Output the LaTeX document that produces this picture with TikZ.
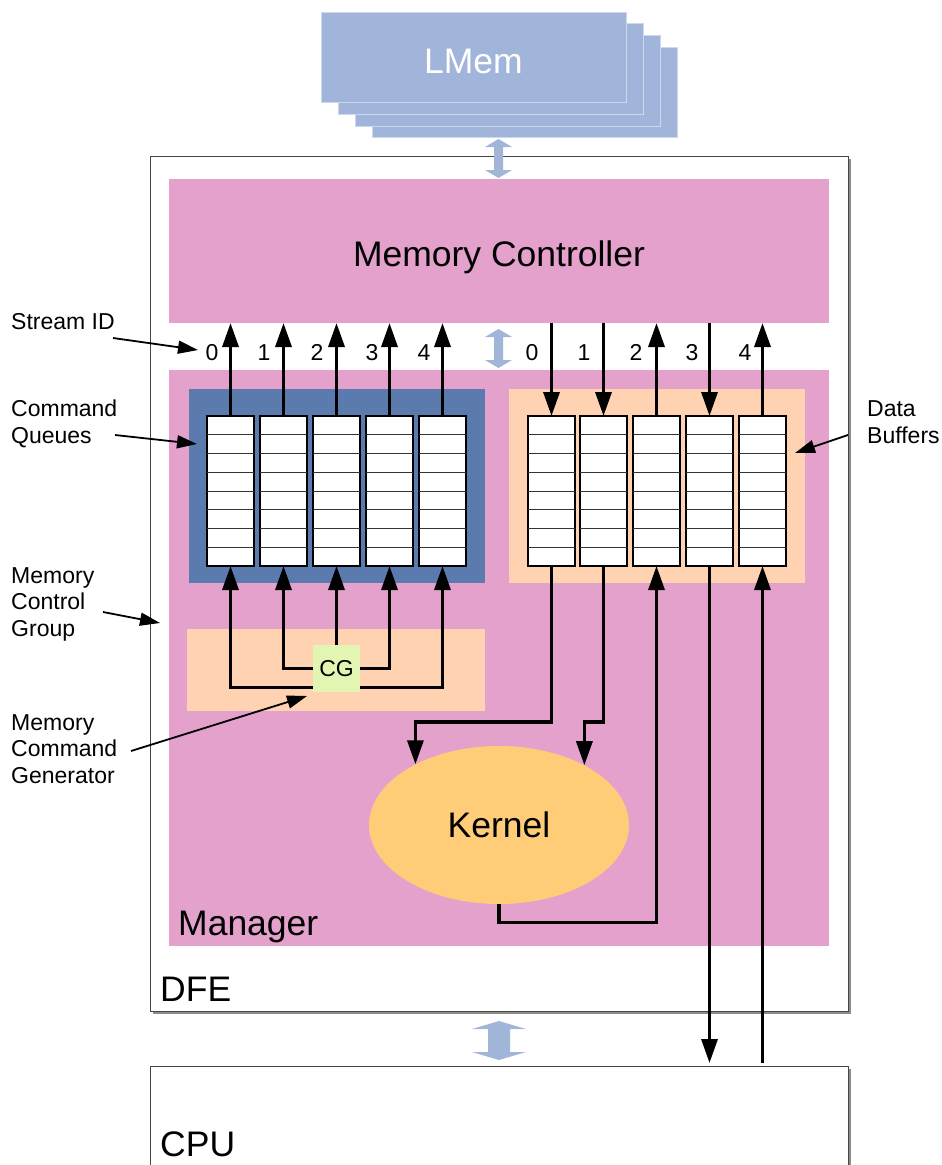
\documentclass[tikz,border=0pt]{standalone}
\usepackage{fontspec}
\setmainfont{Liberation Sans}
\usetikzlibrary{arrows.meta,shapes.geometric}
\definecolor{pinkc}{RGB}{228,161,203}
\definecolor{bluec}{RGB}{91,123,175}
\definecolor{peachc}{RGB}{255,211,178}
\definecolor{kernc}{RGB}{255,205,120}
\definecolor{cgc}{RGB}{227,245,178}
\definecolor{lmemc}{RGB}{161,180,218}
\definecolor{lmemedge}{RGB}{205,216,236}
\definecolor{blockc}{RGB}{161,181,217}
\definecolor{shadowc}{RGB}{140,140,140}
\definecolor{borderc}{RGB}{70,70,70}
\begin{document}
\begin{tikzpicture}[x=1pt,y=-1pt,
  bigtext/.style={font=\fontsize{35.5}{40}\selectfont, inner sep=0},
  smalltext/.style={font=\fontsize{23}{26.5}\selectfont, inner sep=0},
  area/.style={inner sep=0, outer sep=0, anchor=north west},
  lmemrect/.style={fill=lmemc, draw=lmemedge, line width=0.8pt},
  col/.style={draw=black, fill=white, line width=1.2pt, minimum width=47pt, minimum height=150pt, inner sep=0, outer sep=0, anchor=north west},
  rowline/.style={draw=black!80, line width=1pt},
  flow/.style={line width=3.3pt, -{Triangle[length=24pt,width=16pt]}},
  callout/.style={line width=1.8pt, -{Triangle[length=20pt,width=13pt]}},
  blockarrow/.style={fill=blockc},
  boxborder/.style={draw=borderc, line width=1.2pt, fill=white}
]
\useasboundingbox (0,0) rectangle (942,1165);
\clip (0,0) rectangle (942,1165);

% LMem stack
\draw[lmemrect] (372,47) rectangle (677,137);
\draw[lmemrect] (355,35) rectangle (660,126);
\draw[lmemrect] (338,23) rectangle (643,114);
\draw[lmemrect] (321,12) rectangle (626,102);
\node[bigtext, text=white, anchor=base] (lmem) at (473.5,73) {LMem};

% DFE box with shadow
\fill[shadowc] (153,159) rectangle (851,1014);
\node[boxborder, minimum width=698pt, minimum height=855pt, inner sep=0, anchor=north west] (dfe) at (150,156) {};
\node[bigtext, anchor=base west] at (160,1001) {DFE};

% CPU box
\fill[shadowc] (153,1069) rectangle (851,1200);
\node[boxborder, minimum width=698pt, minimum height=140pt, inner sep=0, anchor=north west] (cpu) at (150,1066) {};
\node[bigtext, anchor=base west] at (160,1156) {CPU};

% Memory controller
\node[area, fill=pinkc, minimum width=660pt, minimum height=144pt] (mc) at (169,179) {};
\node[bigtext, anchor=base] at (499,266) {Memory Controller};

% Manager
\node[area, fill=pinkc, minimum width=660pt, minimum height=576pt] (mgr) at (169,370) {};
\node[bigtext, anchor=base west] at (178,935) {Manager};

% groups
\node[area, fill=bluec, minimum width=296pt, minimum height=194pt] (cqgrp) at (189,389) {};
\node[area, fill=peachc, minimum width=296pt, minimum height=194pt] (dbgrp) at (509,389) {};
\node[area, fill=peachc, minimum width=298pt, minimum height=82pt] (cggrp) at (187,629) {};

% kernel
\node[ellipse, fill=kernc, minimum width=260pt, minimum height=158pt, bigtext] (kernel) at (499,825) {Kernel};

% queues and buffers
\foreach \n/\x in {0/207,1/260,2/313,3/366,4/419}{
  \node[col] (q\n) at (\x,416) {};
  \foreach \i in {1,...,7}{
    \draw[rowline] ([yshift=-\i*18.75pt]q\n.north west) -- ([yshift=-\i*18.75pt]q\n.north east);
  }
}
\foreach \n/\x in {0/528,1/580,2/633,3/686,4/739}{
  \node[col] (b\n) at (\x,416) {};
  \foreach \i in {1,...,7}{
    \draw[rowline] ([yshift=-\i*18.75pt]b\n.north west) -- ([yshift=-\i*18.75pt]b\n.north east);
  }
}

% CG
\node[fill=cgc, minimum width=47pt, minimum height=47pt, smalltext] (cg) at (336.5,668.5) {CG};

% stream ids
\foreach \n/\x in {0/212,1/264,2/317,3/372,4/424}{
  \node[smalltext, anchor=base] at (\x,360) {\n};
}
\foreach \n/\x in {0/532,1/584,2/636,3/692,4/745}{
  \node[smalltext, anchor=base] at (\x,360) {\n};
}

% command queue arrows to MC
\foreach \n in {0,...,4}{
  \draw[flow] (q\n.north) -- (q\n.north |- mc.south);
}
% buffers
\draw[flow] (b0.north |- mc.south) -- (b0.north);
\draw[flow] (b1.north |- mc.south) -- (b1.north);
\draw[flow] (b2.north) -- (b2.north |- mc.south);
\draw[flow] (b3.north |- mc.south) -- (b3.north);
\draw[flow] (b4.north) -- (b4.north |- mc.south);

% CG to queues
\draw[flow] (cg.north) -- (q2.south);
\draw[flow] (cg.west) -| (q1.south);
\draw[flow] (cg.east) -| (q3.south);
\draw[flow] ([yshift=5pt]cg.south west) -| (q0.south);
\draw[flow] ([yshift=5pt]cg.south east) -| (q4.south);

% buffers to kernel
\draw[flow] (b0.south) -- (b0.south |- 0,722) -| (kernel.144.5);
\draw[flow] (b1.south) -- (b1.south |- 0,722) -| (kernel.35.5);
\draw[flow] (kernel.south) -- ++(0,18) -| (b2.south);
\draw[flow] (b3.south) -- ([yshift=3pt]b3.south |- cpu.north);
\draw[flow] ([yshift=3pt]b4.south |- cpu.north) -- (b4.south);

% block arrows
\fill[blockarrow] (498.5,139) -- (512,147) -- (503,147) -- (503,170) -- (512,170) -- (498.5,178) -- (485,170) -- (494,170) -- (494,147) -- (485,147) -- cycle;
\fill[blockarrow] (498.5,329) -- (512,337) -- (503,337) -- (503,360) -- (512,360) -- (498.5,368) -- (485,360) -- (494,360) -- (494,337) -- (485,337) -- cycle;
\fill[blockarrow] (499,1021) -- (526,1029) -- (510,1029) -- (510,1052) -- (526,1052) -- (499,1060) -- (472,1052) -- (488,1052) -- (488,1029) -- (472,1029) -- cycle;

% callouts (base anchor = baseline of last line)
\node[smalltext, anchor=base west] (lsid) at (11,329) {Stream ID};
\node[smalltext, align=left, anchor=base west] (lcq) at (11,443) {Command\\Queues};
\node[smalltext, align=left, anchor=base west] (lmcg) at (11,636) {Memory\\Control\\Group};
\node[smalltext, align=left, anchor=base west] (lmcgen) at (11,783) {Memory\\Command\\Generator};
\node[smalltext, align=left, anchor=base west] (ldb) at (867,443) {Data\\Buffers};

\coordinate (sidfrom) at (113,338);
\coordinate (sidto) at (198,350);
\coordinate (cqfrom) at (115,435);
\coordinate (cqto) at (197,444);
\coordinate (mcgfrom) at (103,612);
\coordinate (mcgto) at (160,623);
\coordinate (genfrom) at (131,751);
\coordinate (gento) at (307,696);
\coordinate (dbfrom) at (848,435);
\coordinate (dbto) at (795,453);
\draw[callout] (sidfrom) -- (sidto);
\draw[callout] (cqfrom) -- (cqto);
\draw[callout] (mcgfrom) -- (mcgto);
\draw[callout] (genfrom) -- (gento);
\draw[callout] (dbfrom) -- (dbto);
\end{tikzpicture}
\end{document}
